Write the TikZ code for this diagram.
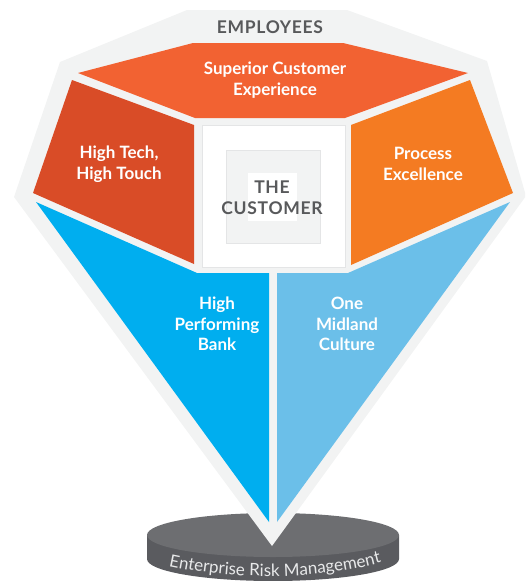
\documentclass[tikz,border=0pt]{standalone}
\usepackage{fontspec}
\setmainfont{Lato}
\usepackage{tikz}
\usetikzlibrary{positioning,decorations.text}
\usepackage{xcolor}
\definecolor{bggray}{HTML}{F2F3F3}
\definecolor{rimgray}{HTML}{E4E5E6}
\definecolor{supor}{HTML}{F26232}
\definecolor{techred}{HTML}{D94C27}
\definecolor{procor}{HTML}{F47B22}
\definecolor{bankblue}{HTML}{00AEEF}
\definecolor{cultblue}{HTML}{6BBFE9}
\definecolor{darktext}{HTML}{58595B}
\definecolor{disktop}{HTML}{6D6E71}
\definecolor{diskside}{HTML}{5A5B5F}
\definecolor{disktext}{HTML}{E8E9EA}

\begin{document}
\begin{tikzpicture} [
		x=1pt, y=-1pt,
		facetlabel/.style = { text=white, align=center,
			font=\bfseries\fontsize{17}{20.5}\selectfont },
		title/.style    = { text=darktext, align=center,
			font=\bfseries\fontsize{17.5}{21}\selectfont\addfontfeatures{LetterSpace=4} },
		box/.style      = { draw=rimgray, line width=1pt },
		]
		\useasboundingbox (0,0) rectangle (525,581);
		\clip (0,0) rectangle (525,581);
		% the base disk
		\fill[diskside] (147,535) -- (147,559)
			arc[start angle=180, end angle=0, x radius=126, y radius=22]
			-- (399,535) -- cycle;
		\fill[disktop] (273,535) ellipse[x radius=126, y radius=22];
		\path[decorate, decoration={text along path, text align=center,
			text={|\fontsize{17}{17}\selectfont\color{disktext}|Enterprise Risk Management}}]
			(160,564) .. controls (230,581) and (320,581) .. (390,560);
		% the gem outline
		\fill[bggray] (187,10) -- (347,10) -- (487,61) -- (526,196)
			-- (272,546) -- (14,197) -- (60,62) -- cycle;
		% facets
		\fill[supor]    (193,43) -- (343,43) -- (468,73) -- (345,118)
			-- (195,118) -- (78,73) -- cycle;
		\fill[techred]  (72,80) -- (194,125) -- (194,264) -- (33,193) -- cycle;
		\fill[procor]   (470,80) -- (351,125) -- (351,265) -- (513,193) -- cycle;
		\fill[bankblue] (36,202) -- (197,273) -- (269,273) -- (269,522) -- cycle;
		\fill[cultblue] (510,202) -- (348,273) -- (277,273) -- (277,522) -- cycle;
		% the customer in the middle
		\filldraw[box, fill=white]  (202,125) rectangle (345,267);
		\filldraw[box, fill=bggray] (226,150) rectangle (320,243);
		\fill[white] (248,173) rectangle (297,221);
		% labels
		\node [title] (employees) at (270,27) {EMPLOYEES};
		\node [facetlabel] (superior) at (275,80) {Superior Customer\\Experience};
		\node [facetlabel] (hightech) at (119,164) {High Tech,\\High Touch};
		\node [facetlabel] (process) at (423,164) {Process\\Excellence};
		\node [facetlabel] (highbank) at (217,324) {High\\Performing\\Bank};
		\node [facetlabel] (midland) at (347,324) {One\\Midland\\Culture};
		\node [title] (customer) at (272,198) {THE\\CUSTOMER};
\end{tikzpicture}
\end{document}
